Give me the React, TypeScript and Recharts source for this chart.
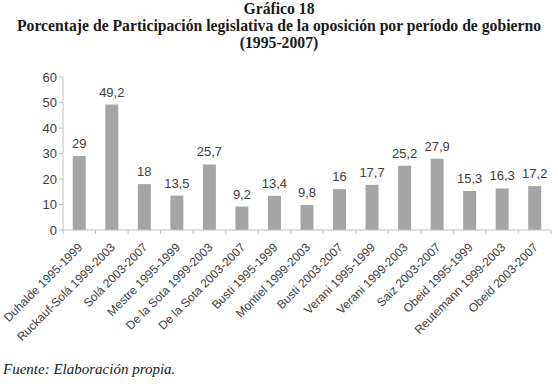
import { BarChart, Bar, XAxis, YAxis, LabelList } from "recharts";

const periods = [
  "Duhalde 1995-1999",
  "Ruckauf-Solá 1999-2003",
  "Solá 2003-2007",
  "Mestre 1995-1999",
  "De la Sota 1999-2003",
  "De la Sota 2003-2007",
  "Busti 1995-1999",
  "Montiel 1999-2003",
  "Busti 2003-2007",
  "Verani 1995-1999",
  "Verani 1999-2003",
  "Saiz 2003-2007",
  "Obeid 1995-1999",
  "Reutemann 1999-2003",
  "Obeid 2003-2007",
];
const participation = [29, 49.2, 18, 13.5, 25.7, 9.2, 13.4, 9.8, 16, 17.7, 25.2, 27.9, 15.3, 16.3, 17.2];
const yTicks = [0, 10, 20, 30, 40, 50, 60];

const data = periods.map((name, i) => ({ name, value: participation[i] }));

const sans = "'Liberation Sans', Arial, sans-serif";
const serif = "'Liberation Serif', 'DejaVu Serif', serif";

const CHART_W = 558;
const CHART_H = 384;
const X_H = 130;
const MARGIN = { top: 77, right: 7, left: 23, bottom: 24 };
const Y_W = 40;
const band = (CHART_W - MARGIN.left - MARGIN.right - Y_W) / periods.length;
const axisY = CHART_H - MARGIN.bottom - X_H;

// Excel-style ticks sit between categories, label stays at the center
function AngledTick({ x, y, payload, index }: any) {
  const isLast = index === periods.length - 1;
  return (
    <g>
      <line x1={x - band / 2} x2={x - band / 2} y1={axisY} y2={axisY + 4} stroke="#bfbfbf" />
      {isLast && <line x1={x + band / 2} x2={x + band / 2} y1={axisY} y2={axisY + 4} stroke="#bfbfbf" />}
      <text
        x={x + 4}
        y={y + 10}
        transform={`rotate(-45, ${x + 4}, ${y + 10})`}
        textAnchor="end"
        fontSize={12}
        fontFamily={sans}
        fill="#404040"
      >
        {payload.value}
      </text>
    </g>
  );
}

export default function App() {
  return (
    <div style={{ position: "absolute", left: 0, top: 0, width: 558, height: 384, background: "#fff" }}>
      <div
        style={{
          position: "absolute",
          top: 0,
          left: 0,
          width: 558,
          textAlign: "center",
          fontFamily: serif,
          fontWeight: "bold",
          fontSize: 15.7,
          lineHeight: "17px",
          color: "#1a1a1a",
        }}
      >
        <div>Gráfico 18</div>
        <div>Porcentaje de Participación legislativa de la oposición por período de gobierno</div>
        <div>(1995-2007)</div>
      </div>
      <div style={{ position: "absolute", top: 0, left: 0 }}>
        <BarChart
          width={CHART_W}
          height={CHART_H}
          data={data}
          margin={MARGIN}
          barCategoryGap="30%"
        >
          <XAxis
            dataKey="name"
            interval={0}
            height={X_H}
            tick={<AngledTick />}
            tickLine={false}
            axisLine={{ stroke: "#bfbfbf" }}
          />
          <YAxis
            domain={[0, 60]}
            ticks={yTicks}
            width={Y_W}
            tick={{ fontSize: 13, fontFamily: sans, fill: "#404040" }}
            tickLine={{ stroke: "#bfbfbf" }}
            axisLine={{ stroke: "#bfbfbf" }}
            tickSize={4}
          />
          <Bar dataKey="value" fill="#a5a5a5" isAnimationActive={false}>
            <LabelList
              dataKey="value"
              position="top"
              offset={8}
              formatter={(v: any) => String(v).replace(".", ",")}
              style={{ fontSize: 13, fontFamily: sans, fill: "#404040" }}
            />
          </Bar>
        </BarChart>
      </div>
      <div
        style={{
          position: "absolute",
          left: 3,
          top: 361,
          fontFamily: serif,
          fontStyle: "italic",
          fontSize: 15,
          color: "#1a1a1a",
        }}
      >
        Fuente: Elaboración propia.
      </div>
    </div>
  );
}
